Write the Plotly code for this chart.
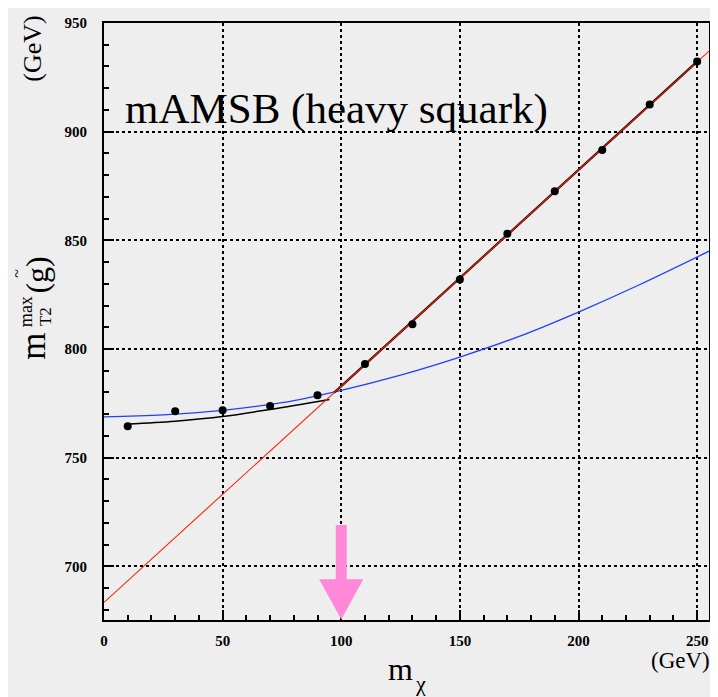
import plotly.graph_objects as go

# ---------------- data ----------------
pts_x = [10, 30, 50, 70, 90, 110, 130, 150, 170, 190, 210, 230, 250]
pts_y = [764.4, 771.4, 771.8, 773.8, 778.7, 793.1, 811.4, 832.0, 853.0, 872.6, 891.6, 912.5, 932.3]

red_x = [0, 255]
red_y = [683.4, 937.1]

black_hi_x = [97, 250]
black_hi_y = [779.9, 932.2]

black_lo_x = [10, 30, 50, 70, 95]
black_lo_y = [765.5, 766.8, 768.9, 772.2, 776.8]

blue_x = [0, 25, 50, 75, 100, 125, 150, 175, 200, 225, 255]
blue_y = [768.8, 769.7, 771.8, 775.3, 781.0, 788.0, 796.3, 805.8, 817.0, 829.2, 845.0]

arrow_x = 100
arrow_top, arrow_head_base, arrow_tip = 719.0, 694.0, 675.5
arrow_shaft_half, arrow_head_half = 2.3, 9.3

x_range = [0, 255]
y_range = [675.3, 950]

# page body has an 8px margin; compensate so the plot lands where the reference has it
OFF = 8
W, H = 710, 689
L, R, T, B = 96, 9, 7, 77


def px(xp):
    return (xp - OFF - L) / (W - L - R)


def py(yp):
    return (H - B - (yp - OFF)) / (H - T - B)


serif = "Liberation Serif"

fig = go.Figure()

fig.add_trace(go.Scatter(x=blue_x, y=blue_y, mode="lines", line=dict(color="#2040ff", width=1.3, shape="spline"),
                         hoverinfo="skip"))
fig.add_trace(go.Scatter(x=black_lo_x, y=black_lo_y, mode="lines", line=dict(color="black", width=1.5, shape="spline"),
                         hoverinfo="skip"))
fig.add_trace(go.Scatter(x=black_hi_x, y=black_hi_y, mode="lines", line=dict(color="black", width=2.2),
                         hoverinfo="skip"))
fig.add_trace(go.Scatter(x=red_x, y=red_y, mode="lines", line=dict(color="#ff2200", width=1.1),
                         hoverinfo="skip"))
fig.add_trace(go.Scatter(x=pts_x, y=pts_y, mode="markers", marker=dict(color="black", size=8),
                         hoverinfo="skip"))

# pink arrow
ax = arrow_x
path = (f"M {ax - arrow_shaft_half},{arrow_top} L {ax + arrow_shaft_half},{arrow_top} "
        f"L {ax + arrow_shaft_half},{arrow_head_base} L {ax + arrow_head_half},{arrow_head_base} "
        f"L {ax},{arrow_tip} L {ax - arrow_head_half},{arrow_head_base} "
        f"L {ax - arrow_shaft_half},{arrow_head_base} Z")
fig.add_shape(type="path", path=path, xref="x", yref="y", fillcolor="#ff88d8",
              line=dict(color="#ff88d8", width=0), layer="above")

tickfont = dict(family=serif, size=15, color="black", weight="bold")

fig.update_xaxes(range=x_range, tickmode="linear", tick0=0, dtick=50,
                 ticks="inside", ticklen=10, tickwidth=2, tickcolor="black",
                 minor=dict(dtick=10, ticks="inside", ticklen=5, tickwidth=2, tickcolor="black", showgrid=False),
                 showgrid=True, gridcolor="black", griddash="dot", gridwidth=1.5,
                 showline=True, linecolor="black", linewidth=2, mirror=True,
                 zeroline=False, tickfont=tickfont, ticklabelstandoff=6)
fig.update_yaxes(range=y_range, tickmode="linear", tick0=0, dtick=50,
                 ticks="inside", ticklen=10, tickwidth=2, tickcolor="black",
                 minor=dict(dtick=10, ticks="inside", ticklen=5, tickwidth=2, tickcolor="black", showgrid=False),
                 showgrid=True, gridcolor="black", griddash="dot", gridwidth=1.5,
                 showline=True, linecolor="black", linewidth=2, mirror=True,
                 zeroline=False, tickfont=tickfont, ticklabelstandoff=12)

ann = []


def add_text(text, xp, yp, size, angle=0):
    ann.append(dict(text=text, x=px(xp), y=py(yp), xref="paper", yref="paper", showarrow=False,
                    xanchor="center", yanchor="middle", textangle=angle,
                    font=dict(family=serif, size=size, color="black")))


# main label
ann.append(dict(text="mAMSB (heavy squark)", x=px(123), y=py(102), xref="paper", yref="paper",
                showarrow=False, xanchor="left", yanchor="middle",
                font=dict(family=serif, size=43, color="black")))

# y axis title pieces (rotated)
add_text("(GeV)", 33, 41, 26, -90)
add_text("m", 34, 343, 35, -90)
add_text("max", 26, 308, 18, -90)
add_text("T2", 45, 313, 17, -90)
add_text("(g)", 37, 271, 32, -90)
add_text("~", 17, 269, 16, -90)

# x axis title pieces
add_text("m", 400, 670, 32)
add_text("χ", 420, 684, 22)
add_text("(GeV)", 680, 661, 23)

fig.update_layout(width=W, height=H, margin=dict(l=L, r=R, t=T, b=B),
                  paper_bgcolor="#eeeeee", plot_bgcolor="#eeeeee",
                  showlegend=False, annotations=ann)

fig.write_html("out.html")
